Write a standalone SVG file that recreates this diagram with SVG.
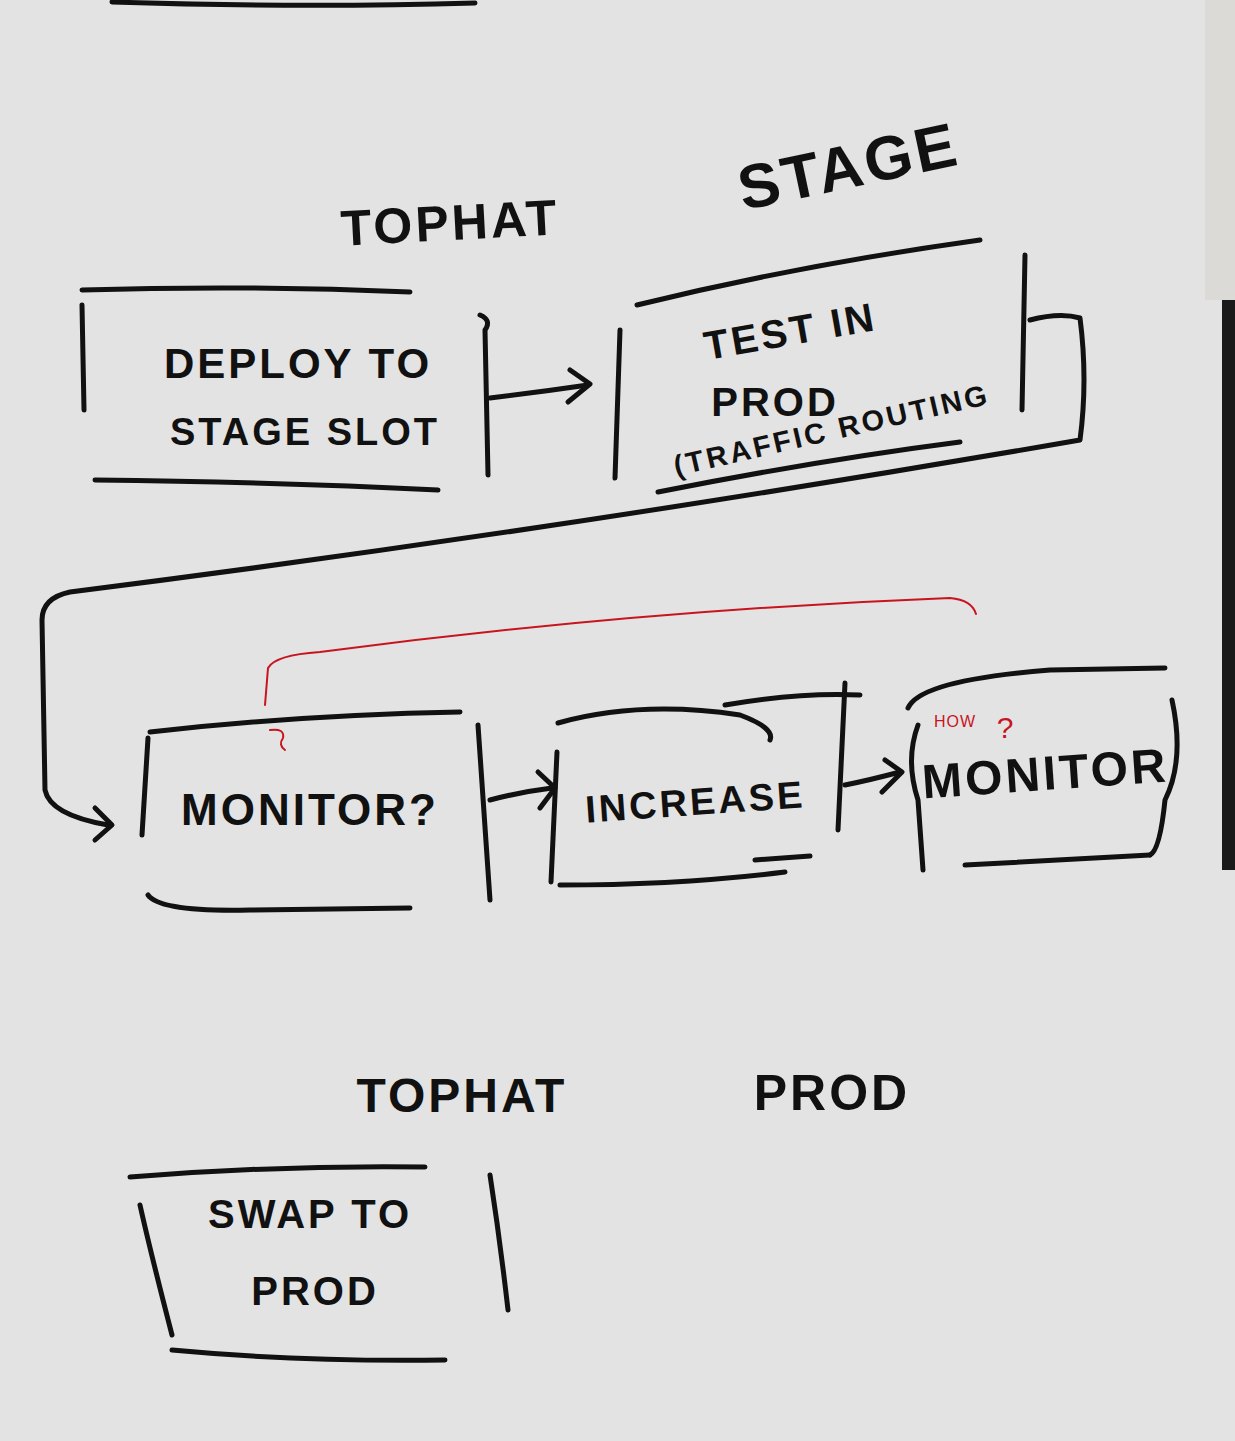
<svg xmlns="http://www.w3.org/2000/svg" width="1235" height="1441" viewBox="0 0 1235 1441">
<style>
.m{fill:none;stroke:#111;stroke-width:5;stroke-linecap:round;stroke-linejoin:round}
.r{fill:none;stroke:#c8141e;stroke-width:2;stroke-linecap:round;stroke-linejoin:round}
.t{font-family:"Liberation Sans",Arial,sans-serif;fill:#111;font-weight:bold;letter-spacing:3px}
.rt{font-family:"Liberation Sans",Arial,sans-serif;fill:#c8141e}
</style>
<rect width="1235" height="1441" fill="#e3e3e3"/>
<rect x="1222" y="300" width="13" height="570" fill="#1a1a1a"/>
<rect x="1205" y="0" width="30" height="300" fill="#dcdad6"/>
<path class="m" d="M112,2 Q300,8 475,3"/>

<text class="t" x="450" y="240" font-size="50" text-anchor="middle" transform="rotate(-3 450 220)">TOPHAT</text>
<text class="t" x="845" y="188" font-size="62" text-anchor="middle" transform="rotate(-12 845 150)">STAGE</text>

<g id="deploy">
<path class="m" d="M82,290 Q250,285 410,292"/>
<path class="m" d="M82,305 L84,410"/>
<path class="m" d="M480,315 Q492,320 485,330 L488,475"/>
<path class="m" d="M95,480 Q280,482 438,490"/>
<text class="t" x="298" y="378" font-size="42" text-anchor="middle">DEPLOY TO</text>
<text class="t" x="305" y="445" font-size="38" text-anchor="middle">STAGE SLOT</text>
</g>

<g id="test">
<path class="m" d="M637,305 Q800,265 980,240"/>
<path class="m" d="M620,330 L615,478"/>
<path class="m" d="M1025,255 L1022,410"/>
<path class="m" d="M658,492 Q820,460 960,442"/>
<text class="t" x="790" y="345" font-size="40" text-anchor="middle" transform="rotate(-10 790 330)">TEST IN</text>
<text class="t" x="775" y="416" font-size="40" text-anchor="middle">PROD</text>
<text class="t" x="832" y="440" font-size="29" text-anchor="middle" letter-spacing="1" transform="rotate(-13 832 432)">(TRAFFIC ROUTING</text>
</g>

<g id="monitorq">
<path class="m" d="M150,732 Q300,715 460,712"/>
<path class="m" d="M148,738 L142,835"/>
<path class="m" d="M478,725 L490,900"/>
<path class="m" d="M148,895 Q160,912 250,910 L410,908"/>
<text class="t" x="310" y="825" font-size="44" text-anchor="middle">MONITOR?</text>
</g>

<g id="increase">
<path class="m" d="M558,723 Q640,700 740,715 Q775,728 770,740"/>
<path class="m" d="M725,705 Q800,692 860,695"/>
<path class="m" d="M557,752 L551,882"/>
<path class="m" d="M845,683 L838,830"/>
<path class="m" d="M560,885 Q680,885 785,872"/>
<path class="m" d="M755,860 L810,856"/>
<text class="t" x="695" y="815" font-size="38" text-anchor="middle" transform="rotate(-4 695 800)">INCREASE</text>
</g>

<g id="monitor">
<path class="m" d="M908,708 Q920,680 1050,670 L1165,668"/>
<path class="m" d="M1172,700 Q1185,760 1165,800 Q1160,850 1150,855"/>
<path class="m" d="M918,725 Q905,760 918,800 L923,870"/>
<path class="m" d="M965,865 Q1060,860 1150,855"/>
<text class="t" x="1045" y="790" font-size="48" text-anchor="middle" transform="rotate(-4 1045 770)">MONITOR</text>
<text class="rt" x="955" y="727" font-size="16" text-anchor="middle" letter-spacing="1">HOW</text>
<text class="rt" x="1005" y="738" font-size="30" text-anchor="middle">?</text>
</g>

<g id="swap">
<path class="m" d="M130,1177 Q280,1165 425,1167"/>
<path class="m" d="M140,1205 Q150,1250 172,1335"/>
<path class="m" d="M490,1175 Q500,1240 508,1310"/>
<path class="m" d="M172,1350 Q300,1362 445,1360"/>
<text class="t" x="310" y="1228" font-size="40" text-anchor="middle">SWAP TO</text>
<text class="t" x="315" y="1305" font-size="40" text-anchor="middle">PROD</text>
</g>

<text class="t" x="462" y="1112" font-size="48" text-anchor="middle">TOPHAT</text>
<text class="t" x="832" y="1110" font-size="50" text-anchor="middle">PROD</text>

<g id="connectors">
<path class="m" d="M490,398 Q540,392 588,385"/>
<path class="m" d="M570,370 L590,384 L568,402"/>
<path class="m" d="M1030,320 Q1060,312 1080,318 Q1088,380 1080,440 Q560,530 70,592 Q42,598 42,620 L45,790 Q50,815 108,825"/>
<path class="m" d="M95,808 L112,825 L95,840"/>
<path class="m" d="M490,800 Q520,792 552,788"/>
<path class="m" d="M538,772 L555,788 L540,808"/>
<path class="m" d="M845,785 Q870,780 900,772"/>
<path class="m" d="M885,760 L902,772 L882,792"/>
<path class="r" d="M265,705 L268,668 Q275,655 320,652 Q640,610 950,598 Q972,600 976,614"/>
<path class="r" d="M270,730 Q285,728 283,738 Q278,745 285,750"/>
</g>
</svg>
